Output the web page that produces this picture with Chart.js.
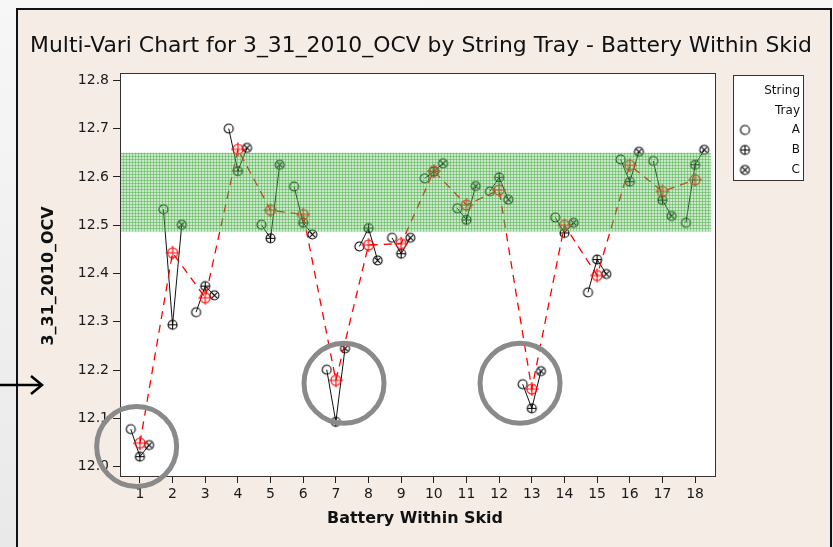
<!DOCTYPE html>
<html>
<head>
<meta charset="utf-8">
<script src="https://cdn.jsdelivr.net/npm/chart.js@4/dist/chart.umd.min.js"></script>
<style>
  html, body { margin: 0; padding: 0; background: #f3f3f3; }
  #wrap { position: relative; width: 833px; height: 547px; }
</style>
</head>
<body>
<div id="wrap"><canvas id="mv" width="833" height="547"></canvas></div>
<script>
// values (3_31_2010_OCV, per battery within skid)
const batteries = [1, 2, 3, 4, 5, 6, 7, 8, 9, 10, 11, 12, 13, 14, 15, 16, 17, 18];
const trayA = [12.078, 12.533, 12.320, 12.700, 12.501, 12.580, 12.201, 12.456, 12.474, 12.597, 12.535, 12.570, 12.171, 12.516, 12.361, 12.636, 12.633, 12.505];
const trayB = [12.021, 12.294, 12.374, 12.612, 12.473, 12.505, 12.093, 12.494, 12.441, 12.611, 12.511, 12.599, 12.121, 12.484, 12.429, 12.590, 12.552, 12.625];
const trayC = [12.045, 12.501, 12.355, 12.660, 12.625, 12.481, 12.245, 12.427, 12.474, 12.628, 12.581, 12.553, 12.198, 12.505, 12.399, 12.652, 12.519, 12.656];
const batteryMeans = [12.049, 12.443, 12.350, 12.657, 12.531, 12.522, 12.179, 12.459, 12.462, 12.612, 12.542, 12.573, 12.161, 12.500, 12.396, 12.624, 12.570, 12.594];
const trays = ['A', 'B', 'C'];
const yTicks = [12.0, 12.1, 12.2, 12.3, 12.4, 12.5, 12.6, 12.7, 12.8];
const xTicks = batteries;
const specBand = [12.487, 12.650];
const circled = [{ x: 0.9, y: 12.042 }, { x: 7.25, y: 12.173 }, { x: 12.64, y: 12.173 }];

const trayOffset = [-0.28, 0, 0.28];
const FONT = '"DejaVu Sans", Verdana, sans-serif';

function marker(kind, color, r, arm) {
    const size = Math.ceil((arm || r) * 2 + 4);
    const c = document.createElement('canvas');
    c.width = size; c.height = size;
    const g = c.getContext('2d');
    const m = size / 2;
    g.strokeStyle = color;
    g.lineWidth = 1.1;
    g.beginPath();
    g.arc(m, m, r, 0, Math.PI * 2);
    g.stroke();
    const a = arm || r;
    g.beginPath();
    if (kind === 'plus') {
        g.moveTo(m - a, m); g.lineTo(m + a, m);
        g.moveTo(m, m - a); g.lineTo(m, m + a);
    } else if (kind === 'x') {
        const d = r * 0.7;
        g.moveTo(m - d, m - d); g.lineTo(m + d, m + d);
        g.moveTo(m + d, m - d); g.lineTo(m - d, m + d);
    }
    g.stroke();
    return c;
}

const mkA = marker('none', '#000', 4.5);
const mkB = marker('plus', '#000', 4.5);
const mkC = marker('x', '#000', 4.5);
const mkMean = marker('plus', '#ff0000', 5, 7);

function trayPoints(vals, t) {
    return batteries.map((b, i) => ({ x: b + trayOffset[t], y: vals[i] }));
}

// black connector inside each battery, broken between batteries
const groupLine = [];
batteries.forEach((b, i) => {
    [trayA, trayB, trayC].forEach((vals, t) => groupLine.push({ x: b + trayOffset[t], y: vals[i] }));
    groupLine.push({ x: b + 0.5, y: null });
});

function fitFont(ctx, text, weight, width) {
    ctx.font = weight + ' 20px ' + FONT;
    const size = 20 * width / ctx.measureText(text).width;
    return weight + ' ' + size.toFixed(2) + 'px ' + FONT;
}

function bandPattern(ctx) {
    const p = document.createElement('canvas');
    p.width = 3; p.height = 3;
    const g = p.getContext('2d');
    g.fillStyle = 'rgba(90,190,90,0.34)';
    g.fillRect(0, 0, 3, 3);
    g.fillStyle = 'rgba(60,165,60,0.42)';
    g.fillRect(0, 0, 3, 1);
    g.fillRect(0, 0, 1, 3);
    return ctx.createPattern(p, 'repeat');
}

const decor = {
    id: 'decor',
    beforeDraw(chart) {
        const { ctx, chartArea: a } = chart;
        ctx.save();
        const grad = ctx.createLinearGradient(0, 0, 16, 547);
        grad.addColorStop(0, '#f7f7f7');
        grad.addColorStop(1, '#e9e9e9');
        ctx.fillStyle = grad;
        ctx.fillRect(0, 0, 833, 547);
        ctx.fillStyle = '#f5ece6';
        ctx.fillRect(16, 8, 815, 539);
        ctx.strokeStyle = '#111';
        ctx.lineWidth = 2;
        ctx.beginPath();
        ctx.moveTo(17, 547); ctx.lineTo(17, 9); ctx.lineTo(831, 9); ctx.lineTo(831, 547);
        ctx.stroke();
        ctx.fillStyle = '#fff';
        ctx.fillRect(a.left, a.top, a.right - a.left, a.bottom - a.top);
        ctx.restore();
    },
    afterDatasetsDraw(chart) {
        const { ctx, chartArea: a, scales: { x, y } } = chart;
        ctx.save();
        const top = y.getPixelForValue(specBand[1]);
        const bot = y.getPixelForValue(specBand[0]);
        const right = x.getPixelForValue(18.49);
        ctx.fillStyle = bandPattern(ctx);
        ctx.fillRect(a.left, top, right - a.left, bot - top);
        ctx.strokeStyle = '#333';
        ctx.lineWidth = 1;
        ctx.strokeRect(a.left + 0.5, a.top + 0.5, a.right - a.left, a.bottom - a.top);
        ctx.restore();
    },
    afterDraw(chart) {
        const { ctx, scales: { x, y } } = chart;
        ctx.save();
        // circled low batteries
        ctx.strokeStyle = '#8a8a8a';
        ctx.lineWidth = 5;
        circled.forEach(c => {
            ctx.beginPath();
            ctx.arc(x.getPixelForValue(c.x), y.getPixelForValue(c.y), 40, 0, Math.PI * 2);
            ctx.stroke();
        });
        // arrow at left
        ctx.strokeStyle = '#000';
        ctx.lineWidth = 2.5;
        ctx.beginPath();
        ctx.moveTo(0, 385); ctx.lineTo(42, 385);
        ctx.moveTo(31, 376); ctx.lineTo(42, 385); ctx.lineTo(31, 394);
        ctx.stroke();

        ctx.fillStyle = '#111';
        ctx.textAlign = 'center';
        ctx.textBaseline = 'middle';
        const title = 'Multi-Vari Chart for 3_31_2010_OCV by String Tray - Battery Within Skid';
        ctx.font = fitFont(ctx, title, 'normal', 782);
        ctx.fillText(title, 421, 46);

        const xt = 'Battery Within Skid';
        ctx.font = fitFont(ctx, xt, 'bold', 176);
        const axisFont = ctx.font;
        ctx.fillText(xt, 415, 519);

        ctx.save();
        ctx.translate(49, 276);
        ctx.rotate(-Math.PI / 2);
        ctx.font = axisFont;
        ctx.fillText('3_31_2010_OCV', 0, 0);
        ctx.restore();

        // legend box
        ctx.fillStyle = '#fff';
        ctx.fillRect(733, 75, 70, 105);
        ctx.strokeStyle = '#333';
        ctx.lineWidth = 1;
        ctx.strokeRect(733.5, 75.5, 70, 105);
        ctx.fillStyle = '#111';
        ctx.font = '12px ' + FONT;
        ctx.textAlign = 'right';
        ctx.fillText('String', 800, 91);
        ctx.fillText('Tray', 800, 111);
        [mkA, mkB, mkC].forEach((mk, i) => {
            const yy = 130 + i * 20;
            ctx.fillText(trays[i], 800, yy);
            ctx.drawImage(mk, 745 - mk.width / 2, yy - mk.height / 2);
        });
        ctx.restore();
    }
};

const axisCommon = {
    type: 'linear',
    grid: { drawOnChartArea: false, drawTicks: true, color: '#222', tickLength: 7 },
    border: { display: true, color: '#222', width: 1 },
    ticks: { color: '#1a1a1a', font: { family: FONT, size: 14 } }
};

new Chart(document.getElementById('mv'), {
    data: {
        datasets: [
            {
                type: 'line', label: 'Mean', data: batteries.map((b, i) => ({ x: b, y: batteryMeans[i] })),
                borderColor: '#ff0000', borderWidth: 1.3, borderDash: [8, 6],
                pointStyle: mkMean, pointRadius: 6
            },
            { type: 'scatter', label: 'A', data: trayPoints(trayA, 0), pointStyle: mkA, pointRadius: 5 },
            { type: 'scatter', label: 'B', data: trayPoints(trayB, 1), pointStyle: mkB, pointRadius: 5 },
            { type: 'scatter', label: 'C', data: trayPoints(trayC, 2), pointStyle: mkC, pointRadius: 5 },
            {
                type: 'line', label: 'within', data: groupLine, borderColor: '#111', borderWidth: 1,
                pointRadius: 0, spanGaps: false
            }
        ]
    },
    options: {
        responsive: false,
        animation: false,
        events: [],
        layout: { padding: { top: 73, left: 60, right: 118, bottom: 41 } },
        plugins: { legend: { display: false }, tooltip: { enabled: false }, title: { display: false } },
        scales: {
            x: Object.assign({}, axisCommon, {
                position: 'bottom', min: 0.39, max: 18.61,
                afterBuildTicks: s => { s.ticks = xTicks.map(v => ({ value: v })); },
                afterFit: s => { s.height = 30; },
                ticks: Object.assign({}, axisCommon.ticks, { padding: 3, maxRotation: 0, autoSkip: false })
            }),
            y: Object.assign({}, axisCommon, {
                position: 'left', min: 11.981, max: 12.815,
                afterBuildTicks: s => { s.ticks = yTicks.map(v => ({ value: v })); },
                afterFit: s => { s.width = 60; },
                ticks: Object.assign({}, axisCommon.ticks, { padding: 4, callback: v => Number(v).toFixed(1) })
            })
        }
    },
    plugins: [decor]
});
</script>
</body>
</html>
